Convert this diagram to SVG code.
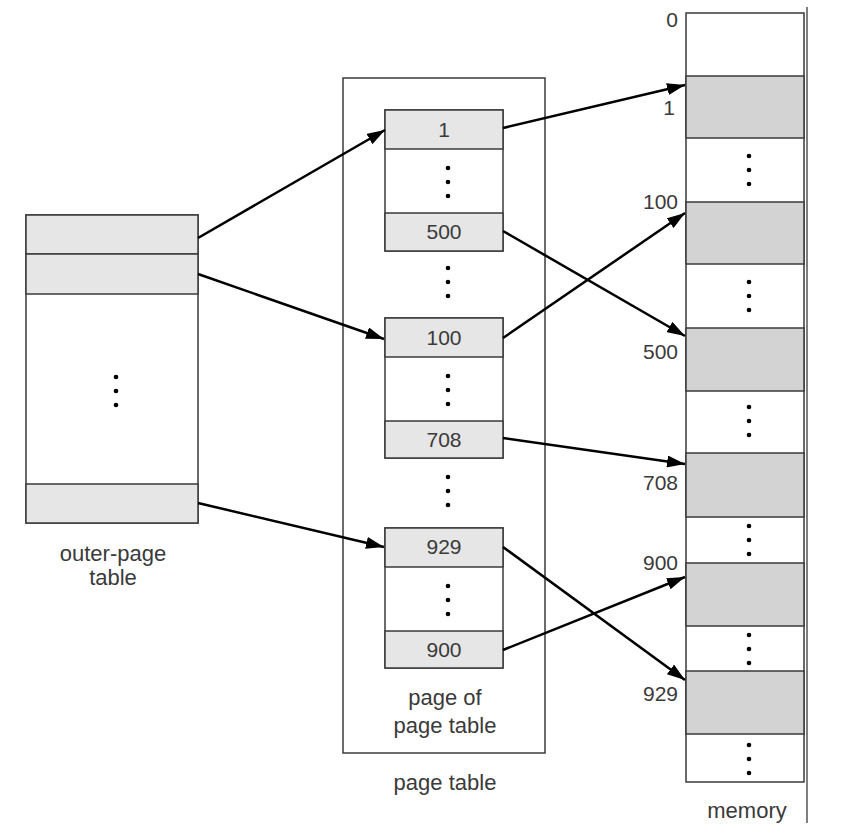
<svg xmlns="http://www.w3.org/2000/svg" width="845" height="840" viewBox="0 0 845 840">
<defs>
<style>
.box{fill:none;stroke:#3a3a3a;stroke-width:1.5}
.cell{fill:#e6e6e6;stroke:#3a3a3a;stroke-width:1.5}
.wcell{fill:#ffffff;stroke:#3a3a3a;stroke-width:1.5}
.mg{fill:#d3d3d3;stroke:#3a3a3a;stroke-width:1.5}
.t{font-family:"Liberation Sans",Arial,sans-serif;font-size:21px;fill:#3a3a3a}
.l{font-size:22px}
.c{text-anchor:middle}
.r{text-anchor:end}
.arr{stroke:#000;stroke-width:2.5;fill:none;marker-end:url(#ah)}
</style>
<marker id="ah" viewBox="0 0 18 12" refX="18" refY="6" markerWidth="18" markerHeight="12" markerUnits="userSpaceOnUse" orient="auto">
<path d="M0,0 L18,6 L0,12 Z" fill="#000"/>
</marker>
<g id="dots"><circle cx="0" cy="-14" r="2.3" fill="#000"/><circle cx="0" cy="0" r="2.3" fill="#000"/><circle cx="0" cy="14" r="2.3" fill="#000"/></g>
</defs>
<rect width="845" height="840" fill="#fff"/>

<g id="outer-page-table">
<rect class="wcell" x="26" y="215" width="172" height="308"/>
<rect class="cell" x="26" y="215" width="172" height="39"/>
<rect class="cell" x="26" y="254" width="172" height="40"/>
<rect class="cell" x="26" y="484" width="172" height="39"/>
<use href="#dots" x="116" y="391"/>
<text class="t l c" x="113" y="561">outer-page</text>
<text class="t l c" x="113" y="585">table</text>
</g>

<g id="page-table">
<rect class="box" x="343" y="78" width="202" height="675"/>
<use href="#dots" x="448" y="282"/>
<use href="#dots" x="448" y="491"/>
<text class="t l c" x="445" y="790">page table</text>
</g>

<g id="page-of-page-table-1">
<rect class="wcell" x="385" y="110" width="118" height="141"/>
<rect class="cell" x="385" y="110" width="118" height="39"/>
<rect class="cell" x="385" y="213" width="118" height="38"/>
<text class="t c" x="444" y="137">1</text>
<use href="#dots" x="448" y="182"/>
<text class="t c" x="444" y="239">500</text>
</g>

<g id="page-of-page-table-2">
<rect class="wcell" x="385" y="318" width="118" height="140"/>
<rect class="cell" x="385" y="318" width="118" height="39"/>
<rect class="cell" x="385" y="421" width="118" height="37"/>
<text class="t c" x="444" y="345">100</text>
<use href="#dots" x="448" y="390"/>
<text class="t c" x="444" y="447">708</text>
</g>

<g id="page-of-page-table-3">
<rect class="wcell" x="385" y="528" width="118" height="140"/>
<rect class="cell" x="385" y="528" width="118" height="39"/>
<rect class="cell" x="385" y="631" width="118" height="37"/>
<text class="t c" x="444" y="554">929</text>
<use href="#dots" x="448" y="600"/>
<text class="t c" x="444" y="657">900</text>
<text class="t l c" x="445" y="705">page of</text>
<text class="t l c" x="445" y="733">page table</text>
</g>

<g id="memory">
<line x1="807" y1="7" x2="807" y2="823" stroke="#555" stroke-width="1.5"/>
<rect class="wcell" x="686" y="13" width="118" height="769"/>
<rect class="mg" x="686" y="76" width="118" height="62"/>
<rect class="mg" x="686" y="202" width="118" height="62"/>
<rect class="mg" x="686" y="328" width="118" height="63"/>
<rect class="mg" x="686" y="453" width="118" height="64"/>
<rect class="mg" x="686" y="563" width="118" height="63"/>
<rect class="mg" x="686" y="671" width="118" height="63"/>
<use href="#dots" x="749" y="170"/>
<use href="#dots" x="749" y="296"/>
<use href="#dots" x="749" y="421"/>
<use href="#dots" x="749" y="540"/>
<use href="#dots" x="749" y="649"/>
<use href="#dots" x="749" y="759"/>
<text class="t r" x="678" y="27">0</text>
<text class="t r" x="675" y="115">1</text>
<text class="t r" x="678" y="209">100</text>
<text class="t r" x="678" y="359">500</text>
<text class="t r" x="678" y="490">708</text>
<text class="t r" x="678" y="570">900</text>
<text class="t r" x="678" y="701">929</text>
<text class="t l c" x="747" y="818">memory</text>
</g>

<g id="connectors">
<line class="arr" x1="198" y1="238" x2="385" y2="130"/>
<line class="arr" x1="198" y1="274" x2="384" y2="339"/>
<line class="arr" x1="198" y1="503" x2="384" y2="547"/>
<line class="arr" x1="503" y1="128" x2="685" y2="85"/>
<line class="arr" x1="503" y1="231" x2="685" y2="336"/>
<line class="arr" x1="503" y1="338" x2="685" y2="213"/>
<line class="arr" x1="503" y1="438" x2="685" y2="464"/>
<line class="arr" x1="503" y1="547" x2="685" y2="680"/>
<line class="arr" x1="503" y1="650" x2="685" y2="577"/>
</g>
</svg>
